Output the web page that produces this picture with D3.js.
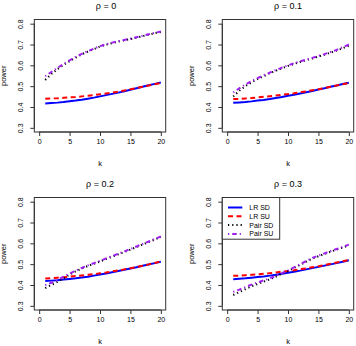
<!DOCTYPE html>
<html>
<head>
<meta charset="utf-8">
<script src="https://cdn.jsdelivr.net/npm/d3@7"></script>
<style>
  body { margin: 0; background: #fff; }
  svg text { font-family: "Liberation Sans", Arial, Helvetica, sans-serif; fill: #000; }
</style>
</head>
<body>
<div id="chart"></div>
<script>
var rhos = ["0", "0.1", "0.2", "0.3"];
var ks = d3.range(1, 21);
var xTicks = [0, 5, 10, 15, 20];
var yTicks = [0.3, 0.4, 0.5, 0.6, 0.7, 0.8];
var seriesNames = ["LR SD", "LR SU", "Pair SD", "Pair SU"];

// one row per rho
var lrSD = [
  [0.417,0.419,0.421,0.424,0.428,0.431,0.435,0.440,0.445,0.451,0.457,0.463,0.469,0.476,0.483,0.490,0.497,0.504,0.511,0.518],
  [0.420,0.422,0.424,0.427,0.431,0.434,0.438,0.443,0.448,0.454,0.459,0.465,0.471,0.477,0.484,0.490,0.497,0.503,0.510,0.516],
  [0.419,0.421,0.423,0.426,0.429,0.432,0.436,0.440,0.445,0.450,0.455,0.461,0.467,0.473,0.479,0.485,0.492,0.498,0.505,0.512],
  [0.428,0.430,0.432,0.435,0.438,0.441,0.445,0.449,0.454,0.459,0.464,0.469,0.475,0.481,0.487,0.493,0.499,0.505,0.512,0.519]
];
var lrSU = [
  [0.440,0.441,0.442,0.444,0.446,0.448,0.451,0.454,0.457,0.461,0.465,0.469,0.474,0.479,0.485,0.491,0.497,0.503,0.509,0.515],
  [0.438,0.439,0.441,0.443,0.446,0.449,0.452,0.455,0.459,0.462,0.466,0.471,0.475,0.480,0.485,0.491,0.497,0.503,0.509,0.515],
  [0.431,0.433,0.435,0.437,0.440,0.443,0.446,0.449,0.452,0.456,0.460,0.465,0.470,0.475,0.480,0.486,0.492,0.499,0.506,0.513],
  [0.444,0.445,0.447,0.449,0.451,0.454,0.457,0.460,0.464,0.467,0.471,0.476,0.480,0.485,0.490,0.496,0.502,0.508,0.514,0.520]
];
var pairSD = [
  [0.530,0.558,0.582,0.602,0.620,0.637,0.653,0.666,0.678,0.690,0.699,0.707,0.714,0.720,0.726,0.733,0.740,0.747,0.754,0.760],
  [0.450,0.478,0.500,0.518,0.534,0.548,0.562,0.574,0.586,0.597,0.607,0.616,0.625,0.633,0.642,0.651,0.661,0.671,0.682,0.694],
  [0.385,0.400,0.415,0.432,0.450,0.465,0.479,0.491,0.502,0.513,0.525,0.536,0.547,0.558,0.570,0.582,0.594,0.606,0.618,0.630],
  [0.352,0.366,0.380,0.394,0.405,0.416,0.427,0.440,0.454,0.467,0.482,0.497,0.512,0.527,0.538,0.549,0.560,0.570,0.580,0.591]
];
var pairSU = [
  [0.548,0.568,0.588,0.606,0.624,0.640,0.655,0.668,0.680,0.692,0.701,0.709,0.716,0.722,0.728,0.735,0.742,0.749,0.756,0.762],
  [0.470,0.490,0.508,0.524,0.539,0.552,0.565,0.577,0.589,0.600,0.610,0.619,0.628,0.636,0.645,0.654,0.664,0.674,0.687,0.700],
  [0.399,0.411,0.424,0.440,0.455,0.469,0.482,0.494,0.505,0.516,0.528,0.539,0.550,0.561,0.573,0.585,0.597,0.609,0.621,0.633],
  [0.367,0.378,0.390,0.402,0.412,0.422,0.432,0.444,0.457,0.470,0.485,0.500,0.515,0.530,0.541,0.552,0.563,0.573,0.583,0.594]
];

var seriesData = [lrSD, lrSU, pairSD, pairSU];
var colors = ["#0000ff", "#ff0000", "#000000", "#a020f0"];
var dashes = [null, "5,3.5", "1.2,3", "1.2,3,4.5,3"];

var W = 356, H = 346;
var svg = d3.select("#chart").append("svg")
    .attr("width", W)
    .attr("height", H);

// plot box of the first panel; others are shifted
var box = {left: 34.3, right: 165.7, top: 19.5, bottom: 132};
var colStep = 188, rowStep = 178;

rhos.forEach(function(rho, p) {
  var ox = (p % 2) * colStep, oy = Math.floor(p / 2) * rowStep;
  var left = box.left + ox, right = box.right + ox,
      top = box.top + oy, bottom = box.bottom + oy;

  var x = d3.scaleLinear().domain([-0.8, 20.8]).range([left, right]);
  var y = d3.scaleLinear().domain([0.28, 0.82]).range([bottom, top]);

  var g = svg.append("g");

  // series
  var line = d3.line()
      .x(function(d, i) { return x(ks[i]); })
      .y(function(d) { return y(d); });

  seriesData.forEach(function(s, j) {
    g.append("path")
      .attr("d", line(s[p]))
      .attr("fill", "none")
      .attr("stroke", colors[j])
      .attr("stroke-width", 2)
      .attr("stroke-dasharray", dashes[j]);
  });

  // box
  g.append("rect")
    .attr("x", left).attr("y", top)
    .attr("width", right - left).attr("height", bottom - top)
    .attr("fill", "none").attr("stroke", "#333").attr("stroke-width", 1);

  // axes
  var xAxis = d3.axisBottom(x).tickValues(xTicks).tickSize(4).tickPadding(3);
  var gx = g.append("g").attr("transform", "translate(0," + bottom + ")").call(xAxis);
  gx.select(".domain").attr("d", "M" + x(0) + ",0H" + x(20)).attr("stroke", "#333");
  gx.selectAll(".tick line").attr("stroke", "#333");
  gx.selectAll(".tick text").attr("font-size", "7px").attr("fill", "#000")
    .attr("font-family", "Liberation Sans, Arial, sans-serif");

  var yAxis = d3.axisLeft(y).tickValues(yTicks).tickSize(4).tickFormat(d3.format(".1f"));
  var gy = g.append("g").attr("transform", "translate(" + left + ",0)").call(yAxis);
  gy.select(".domain").attr("d", "M0," + y(0.3) + "V" + y(0.8)).attr("stroke", "#333");
  gy.selectAll(".tick line").attr("stroke", "#333");
  gy.selectAll(".tick text")
    .attr("font-size", "7px").attr("fill", "#000")
    .attr("font-family", "Liberation Sans, Arial, sans-serif")
    .attr("text-anchor", "middle")
    .attr("dy", null)
    .attr("x", null)
    .attr("transform", "translate(-11.5,0) rotate(-90)")
    .attr("y", 0);

  // labels
  g.append("text")
    .attr("x", (left + right) / 2).attr("y", bottom + 34)
    .attr("text-anchor", "middle").attr("font-size", "7.5px")
    .text("k");
  g.append("text")
    .attr("transform", "translate(" + (ox + 5.5) + "," + ((top + bottom) / 2) + ") rotate(-90)")
    .attr("text-anchor", "middle").attr("font-size", "7.5px")
    .text("power");

  // title (first one sits a bit right in the original)
  g.append("text")
    .attr("x", (left + right) / 2 + (p === 0 ? 6 : 0)).attr("y", oy + 9)
    .attr("text-anchor", "middle").attr("font-size", "9px")
    .text("\u03c1 =  " + rho);

  // legend in last panel
  if (p === 3) {
    var lg = g.append("g");
    lg.append("rect")
      .attr("x", left).attr("y", top)
      .attr("width", 57.4).attr("height", 41.7)
      .attr("fill", "#fff").attr("stroke", "#333");
    seriesNames.forEach(function(name, j) {
      var ly = top + 10 + j * 8.8;
      lg.append("line")
        .attr("x1", left + 5.7).attr("x2", left + 20)
        .attr("y1", ly).attr("y2", ly)
        .attr("stroke", colors[j]).attr("stroke-width", 2)
        .attr("stroke-dasharray", dashes[j]);
      lg.append("text")
        .attr("x", left + 27).attr("y", ly + 2.5)
        .attr("font-size", "7px")
        .text(name);
    });
  }
});
</script>
</body>
</html>
